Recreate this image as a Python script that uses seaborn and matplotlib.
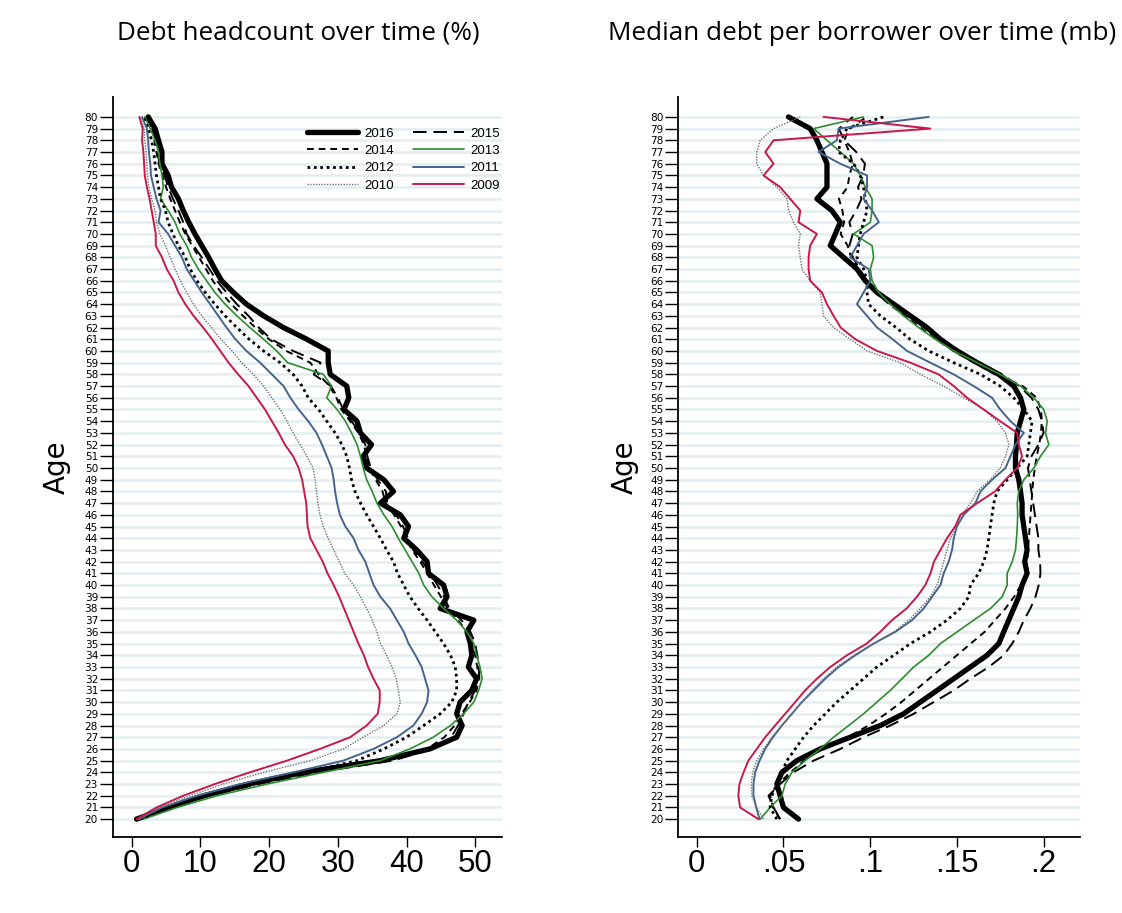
import numpy as np
import pandas as pd
import matplotlib
matplotlib.use("Agg")
import matplotlib.pyplot as plt
from matplotlib.lines import Line2D
import seaborn as sns

# ---------------- data ----------------
ages = list(range(20, 81))
years = [2016, 2015, 2014, 2013, 2012, 2011, 2010, 2009]

# Debt headcount (%) by age 20..80
hc_2009 = [0.7, 3.6, 7.5, 12.1, 17.2, 22.6, 27.4, 31.8, 34.2, 35.8, 36.1, 36.1, 35.2, 34.4, 33.8, 33.0, 32.3, 31.6, 30.9, 30.2,
           29.4, 28.5, 27.8, 26.9, 26.0, 25.6, 25.5, 25.4, 25.1, 24.8, 24.3, 23.5, 22.3, 21.4, 20.4, 19.4, 18.2, 17.0, 15.5, 14.1,
           12.9, 11.7, 10.4, 9.0, 7.8, 6.8, 6.1, 5.1, 4.4, 3.5, 3.5, 3.2, 2.9, 2.6, 2.2, 1.9, 1.8, 1.7, 1.5, 1.6, 1.1]
hc_2010 = [1.0, 4.1, 8.5, 13.3, 19.2, 26.0, 30.8, 33.7, 36.7, 38.6, 39.1, 38.8, 38.5, 37.9, 37.1, 36.2, 35.7, 35.0, 34.2, 33.3,
           32.3, 31.0, 30.2, 29.4, 28.6, 27.9, 27.4, 27.1, 26.9, 26.7, 26.4, 25.5, 24.5, 23.5, 22.6, 21.6, 20.4, 19.2, 17.7, 16.0,
           14.6, 13.0, 11.6, 10.2, 9.0, 8.0, 7.1, 6.3, 5.6, 4.9, 4.1, 3.6, 3.4, 2.9, 2.5, 2.3, 2.2, 2.1, 1.9, 1.8, 1.3]
hc_2011 = [1.0, 4.4, 9.5, 15.8, 23.5, 30.8, 35.2, 38.6, 41.0, 42.2, 43.0, 43.2, 42.7, 42.2, 41.3, 40.3, 39.6, 38.6, 37.6, 36.2,
           35.2, 34.6, 34.0, 33.0, 32.3, 31.1, 30.3, 29.9, 29.6, 29.4, 29.1, 28.4, 27.7, 26.9, 25.7, 24.3, 23.1, 22.1, 20.4, 18.7,
           16.7, 15.1, 13.8, 12.6, 11.4, 10.2, 9.1, 8.0, 7.3, 6.3, 5.3, 3.9, 4.2, 3.6, 3.2, 2.8, 2.7, 2.5, 2.4, 2.2, 1.5]
hc_2012 = [1.2, 5.1, 10.4, 17.2, 25.5, 32.8, 36.7, 40.0, 42.5, 44.9, 46.6, 47.3, 47.3, 47.1, 46.4, 45.4, 44.2, 43.0, 41.7, 40.5,
           39.6, 38.7, 38.1, 37.1, 36.2, 35.2, 34.2, 33.3, 32.5, 32.0, 31.7, 31.3, 30.6, 29.6, 28.4, 27.2, 25.7, 24.8, 23.5, 21.6,
           19.2, 17.1, 15.3, 13.6, 12.1, 10.7, 9.5, 8.5, 7.8, 6.8, 6.0, 5.3, 4.9, 4.2, 3.9, 3.6, 3.4, 3.2, 2.9, 2.4, 1.7]
hc_2013 = [1.7, 6.6, 12.4, 19.7, 27.9, 36.2, 40.5, 43.9, 46.4, 48.3, 49.8, 50.5, 51.0, 50.7, 50.2, 49.8, 48.8, 47.3, 45.4, 43.7,
           42.5, 41.8, 40.8, 39.8, 38.8, 37.9, 36.7, 35.7, 35.0, 34.2, 33.7, 33.3, 32.8, 32.0, 31.1, 29.9, 28.4, 29.1, 27.9, 22.7,
           21.1, 19.2, 17.2, 15.3, 13.6, 12.1, 10.9, 9.7, 8.7, 8.0, 7.0, 6.3, 5.3, 4.2, 4.6, 4.4, 4.1, 3.9, 3.4, 2.7, 1.9]
hc_2014 = [1.0, 5.5, 11.0, 18.0, 26.0, 37.0, 43.0, 45.5, 47.0, 48.0, 49.2, 50.2, 50.5, 50.3, 50.0, 49.5, 48.8, 47.5, 46.0, 45.0,
           44.0, 43.0, 42.0, 40.8, 40.0, 39.2, 38.2, 37.0, 36.5, 35.5, 34.6, 34.2, 33.8, 33.0, 31.8, 30.5, 29.8, 28.8, 27.2, 26.0,
           22.5, 20.0, 18.0, 16.2, 14.5, 13.0, 11.8, 10.8, 9.8, 8.8, 7.8, 7.0, 6.3, 5.6, 5.0, 4.5, 3.9, 3.6, 3.3, 3.0, 2.1]
hc_2015 = [1.2, 5.8, 11.3, 18.5, 27.0, 38.0, 43.8, 46.5, 47.5, 48.3, 49.0, 50.0, 50.6, 50.5, 50.3, 50.0, 49.3, 48.0, 46.2, 45.5,
           44.5, 43.5, 42.3, 41.0, 40.2, 39.5, 38.5, 37.2, 37.0, 35.8, 34.8, 34.3, 34.0, 33.2, 32.0, 30.8, 30.0, 29.0, 26.5, 27.5,
           23.5, 20.3, 18.5, 17.0, 15.3, 13.8, 12.4, 11.3, 10.2, 9.0, 8.0, 7.5, 6.8, 6.0, 5.3, 4.8, 4.0, 3.8, 3.5, 3.0, 2.0]
hc_2016 = [0.7, 5.3, 10.5, 17.0, 25.0, 36.2, 43.4, 47.3, 48.1, 47.3, 47.8, 49.5, 50.2, 49.0, 49.5, 49.3, 48.8, 49.8, 44.9, 45.9,
           45.4, 43.2, 43.0, 41.5, 39.6, 40.3, 39.1, 36.2, 38.1, 36.7, 34.2, 33.7, 34.9, 33.3, 32.8, 30.9, 31.6, 31.3, 28.9, 28.6,
           28.6, 25.5, 22.1, 19.2, 16.7, 14.8, 13.1, 12.1, 11.2, 10.2, 9.2, 8.3, 7.5, 6.8, 5.8, 5.3, 4.4, 4.4, 3.9, 3.4, 2.4]

# Median debt per borrower (mb) by age 20..80
md_2009 = [0.0356, 0.025, 0.024, 0.0246, 0.027, 0.0298, 0.0346, 0.0395, 0.0452, 0.051, 0.0568, 0.0625, 0.0693, 0.077, 0.0866,
           0.098, 0.1058, 0.1126, 0.121, 0.127, 0.1318, 0.1348, 0.1368, 0.1405, 0.1443, 0.149, 0.152, 0.1617, 0.172, 0.178,
           0.1848, 0.1876, 0.1857, 0.1848, 0.175, 0.1655, 0.1559, 0.1482, 0.1395, 0.1232, 0.104, 0.0915, 0.083, 0.0789, 0.0751,
           0.0722, 0.0654, 0.0645, 0.0645, 0.0654, 0.0693, 0.0587, 0.0597, 0.0539, 0.0481, 0.0385, 0.0443, 0.0395, 0.0443, 0.1347, 0.0731]
md_2010 = [0.0385, 0.0346, 0.0318, 0.0314, 0.0323, 0.0346, 0.0385, 0.0433, 0.0491, 0.0549, 0.0606, 0.0664, 0.0731, 0.0808, 0.0905,
           0.102, 0.1136, 0.1222, 0.129, 0.1347, 0.1386, 0.1405, 0.1424, 0.1443, 0.1463, 0.150, 0.153, 0.1578, 0.1617, 0.1693,
           0.175, 0.178, 0.180, 0.178, 0.1732, 0.1655, 0.154, 0.1424, 0.129, 0.1174, 0.0982, 0.0885, 0.0789, 0.0731, 0.0722,
           0.0712, 0.0654, 0.0606, 0.0597, 0.0587, 0.0597, 0.0558, 0.053, 0.052, 0.0462, 0.0385, 0.0346, 0.0346, 0.0366, 0.0443, 0.0597]
md_2011 = [0.0362, 0.0343, 0.0327, 0.0327, 0.0337, 0.0362, 0.0395, 0.0439, 0.0491, 0.0549, 0.0606, 0.0674, 0.0741, 0.0818, 0.0914,
           0.102, 0.1145, 0.1241, 0.1309, 0.1357, 0.1405, 0.1424, 0.1453, 0.1472, 0.1482, 0.150, 0.154, 0.1607, 0.1636, 0.1703,
           0.178, 0.1809, 0.1838, 0.1886, 0.1809, 0.175, 0.1703, 0.1597, 0.1482, 0.1347, 0.1213, 0.113, 0.104, 0.0982, 0.0924,
           0.0962, 0.1001, 0.0991, 0.0885, 0.0924, 0.0962, 0.105, 0.1011, 0.0962, 0.0982, 0.0982, 0.0828, 0.0702, 0.0808, 0.0818, 0.1338]
md_2012 = [0.0462, 0.0423, 0.0433, 0.0462, 0.0491, 0.052, 0.0568, 0.0616, 0.0674, 0.0741, 0.0808, 0.0885, 0.0962, 0.1039, 0.1136,
           0.1232, 0.1347, 0.1443, 0.152, 0.1569, 0.1578, 0.1626, 0.1655, 0.1674, 0.1684, 0.1693, 0.1703, 0.1713, 0.1732, 0.179,
           0.1848, 0.1905, 0.1915, 0.1924, 0.1934, 0.1886, 0.1828, 0.175, 0.1636, 0.1482, 0.1338, 0.123, 0.115, 0.1059, 0.0991,
           0.0982, 0.0982, 0.0962, 0.0924, 0.0933, 0.0943, 0.0962, 0.0982, 0.0972, 0.0962, 0.0943, 0.0905, 0.0818, 0.0828, 0.0866, 0.1078]
md_2013 = [0.0366, 0.0423, 0.0491, 0.051, 0.0549, 0.0625, 0.0712, 0.0789, 0.0876, 0.0962, 0.1039, 0.1116, 0.1184, 0.1251, 0.1338,
           0.1405, 0.1501, 0.1597, 0.1694, 0.1761, 0.179, 0.179, 0.1819, 0.1838, 0.1844, 0.1848, 0.1851, 0.1848, 0.1857, 0.1886,
           0.1944, 0.1982, 0.203, 0.2011, 0.2021, 0.2001, 0.1944, 0.1867, 0.175, 0.1617, 0.1482, 0.1376, 0.128, 0.1193, 0.1116,
           0.1049, 0.1011, 0.1001, 0.102, 0.1011, 0.0905, 0.1001, 0.1011, 0.1011, 0.0972, 0.0943, 0.0905, 0.0828, 0.0751, 0.0674, 0.0962]
md_2014 = [0.048, 0.044, 0.0424, 0.047, 0.054, 0.062, 0.072, 0.087, 0.099, 0.109, 0.118, 0.126, 0.134, 0.142, 0.150,
           0.158, 0.166, 0.172, 0.178, 0.183, 0.187, 0.190, 0.1905, 0.191, 0.1915, 0.192, 0.1925, 0.193, 0.1935, 0.194,
           0.195, 0.196, 0.1975, 0.1985, 0.199, 0.1985, 0.196, 0.188, 0.172, 0.160, 0.148, 0.138, 0.129, 0.120, 0.111,
           0.103, 0.097, 0.093, 0.089, 0.087, 0.083, 0.085, 0.084, 0.082, 0.087, 0.088, 0.090, 0.088, 0.085, 0.088, 0.098]
md_2015 = [0.0481, 0.0443, 0.0414, 0.0481, 0.0558, 0.0674, 0.0828, 0.0962, 0.1116, 0.1251, 0.1366, 0.1482, 0.1578, 0.1684, 0.177,
           0.1819, 0.1857, 0.1886, 0.1924, 0.1953, 0.1972, 0.1982, 0.198, 0.197, 0.197, 0.196, 0.195, 0.194, 0.193, 0.192,
           0.191, 0.193, 0.197, 0.200, 0.199, 0.197, 0.193, 0.186, 0.176, 0.163, 0.152, 0.141, 0.132, 0.122, 0.112,
           0.104, 0.098, 0.094, 0.090, 0.088, 0.090, 0.088, 0.092, 0.095, 0.093, 0.096, 0.097, 0.092, 0.085, 0.082, 0.090]
md_2016 = [0.0587, 0.050, 0.0481, 0.0462, 0.0491, 0.0577, 0.0712, 0.0885, 0.1058, 0.1193, 0.1289, 0.1386, 0.1482, 0.1578, 0.1674,
           0.1742, 0.177, 0.1799, 0.1828, 0.1857, 0.1876, 0.1905, 0.1891, 0.1905, 0.1896, 0.1886, 0.1876, 0.1876, 0.1867, 0.1857,
           0.1838, 0.1838, 0.1844, 0.1848, 0.1867, 0.1886, 0.1867, 0.1828, 0.1742, 0.1617, 0.1501, 0.1405, 0.1328, 0.1232, 0.1136,
           0.104, 0.0972, 0.0924, 0.0847, 0.077, 0.0799, 0.0828, 0.0779, 0.0693, 0.0751, 0.0751, 0.0751, 0.0722, 0.0693, 0.0654, 0.0529]

headcount = {2016: hc_2016, 2015: hc_2015, 2014: hc_2014, 2013: hc_2013,
             2012: hc_2012, 2011: hc_2011, 2010: hc_2010, 2009: hc_2009}
median_debt = {2016: md_2016, 2015: md_2015, 2014: md_2014, 2013: md_2013,
               2012: md_2012, 2011: md_2011, 2010: md_2010, 2009: md_2009}

left_xticks = [0, 10, 20, 30, 40, 50]
left_xticklabels = ["0", "10", "20", "30", "40", "50"]
right_xticks = [0, 0.05, 0.1, 0.15, 0.2]
right_xticklabels = ["0", ".05", ".1", ".15", ".2"]

title_left = "Debt headcount over time (%)"
title_right = "Median debt per borrower over time (mb)"
ylabel = "Age"

# ---------------- styles ----------------
styles = {
    2016: dict(color="black", lw=3.8, ls="-"),
    2015: dict(color="black", lw=1.4, ls=(0, (7, 3.5))),
    2014: dict(color="black", lw=1.4, ls=(0, (3.5, 2.5))),
    2013: dict(color="#2e8b2e", lw=1.2, ls="-"),
    2012: dict(color="black", lw=2.0, ls=(0, (1.0, 1.3))),
    2011: dict(color="#46648a", lw=1.4, ls="-"),
    2010: dict(color="#707070", lw=1.0, ls=(0, (1, 1))),
    2009: dict(color="#c8194a", lw=1.4, ls="-"),
}

sns.set_style("white")
plt.rcParams["font.family"] = ["Liberation Sans", "DejaVu Sans"]
for k in ["text.color", "axes.labelcolor", "xtick.color", "ytick.color"]:
    plt.rcParams[k] = "black"

W, H = 1122, 913
fig = plt.figure(figsize=(W / 100, H / 100), dpi=100)

def px_axes(l, r, t, b):
    return fig.add_axes([l / W, 1 - b / H, (r - l) / W, (b - t) / H])

axL = px_axes(112.7, 502, 97, 836.7)
axR = px_axes(678, 1080, 97, 836.7)

def draw(ax, data, xlim, xticks, xticklabels):
    for a in ages:
        ax.axhline(a, color="#e4edf2", lw=1.8, zorder=0)
    for yr in years:
        df = pd.DataFrame({"age": ages, "value": data[yr]})
        st = styles[yr]
        sns.lineplot(data=df, x="value", y="age", orient="y", sort=True, errorbar=None,
                     ax=ax, color=st["color"], linewidth=st["lw"], linestyle=st["ls"],
                     label=str(yr), legend=False, zorder=3)
    ax.set_xlim(*xlim)
    ax.set_ylim(18.5, 81.7)
    ax.set_yticks(ages)
    ax.set_yticklabels([str(a) for a in ages], fontsize=7.6, family=["DejaVu Sans"])
    ax.set_xticks(xticks)
    ax.set_xticklabels(xticklabels, fontsize=22.5, family=["Liberation Sans", "DejaVu Sans"])
    ax.tick_params(axis="y", length=9.5, width=1.0, pad=1, color="black", left=True)
    ax.tick_params(axis="x", length=7, width=1.0, pad=2, color="black", bottom=True)
    for s in ["top", "right"]:
        ax.spines[s].set_visible(False)
    for s in ["left", "bottom"]:
        ax.spines[s].set_color("black")
        ax.spines[s].set_linewidth(1.3)
    ax.set_xlabel("")
    ax.set_ylabel(ylabel, fontsize=20, family=["DejaVu Sans"])
    ax.grid(False)
    ax.set_facecolor("white")

draw(axL, headcount, (-2.77, 53.9), left_xticks, left_xticklabels)
draw(axR, median_debt, (-0.0108, 0.221), right_xticks, right_xticklabels)
axL.yaxis.set_label_coords(-0.108, 0.5)
axR.yaxis.set_label_coords(-0.098, 0.5)

order = [2016, 2014, 2012, 2010, 2015, 2013, 2011, 2009]
leg_handles = [Line2D([0], [0], color=styles[y]["color"], lw=styles[y]["lw"], ls=styles[y]["ls"]) for y in order]
leg = axL.legend(leg_handles, [str(y) for y in order], ncol=2, frameon=False, fontsize=9.5,
                 handlelength=3.9, handletextpad=0.5, columnspacing=1.4, labelspacing=0.38,
                 loc="upper left", bbox_to_anchor=(296 / W, 1 - 117 / H), bbox_transform=fig.transFigure,
                 borderpad=0.3)

fig.text(298 / W, 1 - 33 / H, title_left, ha="center", va="center", fontsize=18.8, family=["Open Sans", "DejaVu Sans"])
fig.text(862 / W, 1 - 33 / H, title_right, ha="center", va="center", fontsize=18.8, family=["Open Sans", "DejaVu Sans"])

fig.savefig("out.png", dpi=100, facecolor="white")
